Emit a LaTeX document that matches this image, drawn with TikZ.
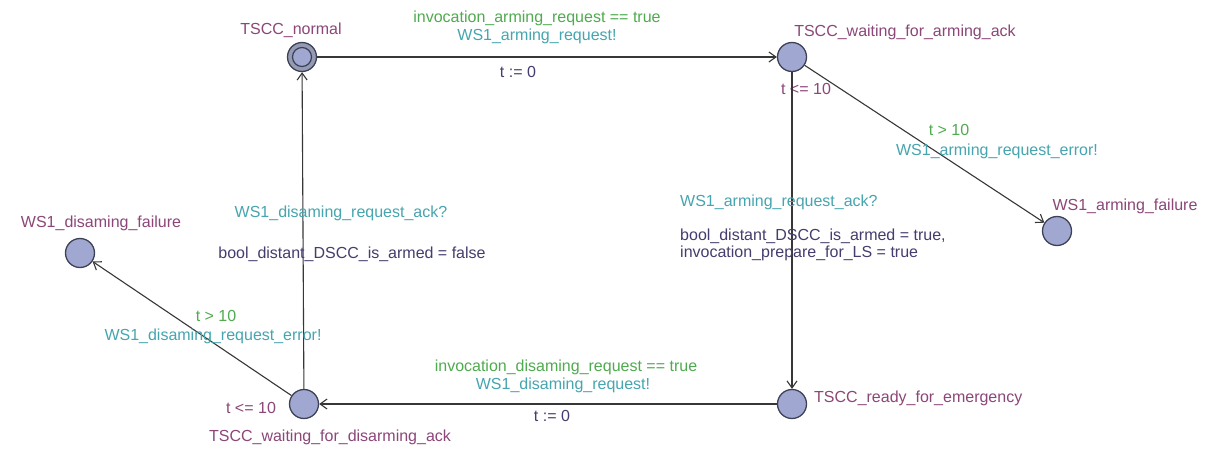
\documentclass[tikz,border=0pt]{standalone}
\usepackage{fontspec}
\setmainfont{Liberation Sans}
\usetikzlibrary{arrows.meta}
\definecolor{locname}{RGB}{140,70,120}
\definecolor{guardc}{RGB}{80,170,80}
\definecolor{syncc}{RGB}{70,165,175}
\definecolor{assignc}{RGB}{70,60,110}
\definecolor{locfill}{RGB}{160,168,210}
\definecolor{locring}{RGB}{150,155,180}
\definecolor{locdraw}{RGB}{60,65,85}
\definecolor{edgec}{RGB}{55,55,55}
\begin{document}
\begin{tikzpicture}[x=1pt,y=-1pt,
  loc/.style={circle,draw=locdraw,fill=locfill,line width=1.3pt,minimum size=29pt,inner sep=0pt},
  lbl/.style={inner sep=0pt,font=\fontsize{16}{18}\selectfont},
  namel/.style={lbl,text=locname},
  invl/.style={lbl,text=locname},
  guardl/.style={lbl,text=guardc},
  syncl/.style={lbl,text=syncc},
  assignl/.style={lbl,text=assignc},
  edge/.style={draw=edgec,line width=1.1pt,-{Straight Barb[length=7pt,width=10pt,line width=1.1pt]}}
]
\useasboundingbox (0,0) rectangle (1215,449);
\fill[white] (0,0) rectangle (1215,449);
% locations
\node[loc,fill=locring] (n) at (302,57) {};
\draw[locdraw,fill=locfill,line width=1.2pt] (n.center) circle (9.5pt);
\node[loc] (wa) at (792,57) {};
\node[loc] (af) at (1057,231) {};
\node[loc] (re) at (792,404) {};
\node[loc] (wd) at (304,404) {};
\node[loc] (df) at (80,253) {};
% names
\node[namel] (nN) at (291,30) {TSCC\_normal};
\node[namel] (nWA) at (905,32) {TSCC\_waiting\_for\_arming\_ack};
\node[namel] (nAF) at (1125,206) {WS1\_arming\_failure};
\node[namel,anchor=west] (nRE) at (814,398) {TSCC\_ready\_for\_emergency};
\node[namel] (nWD) at (330,437) {TSCC\_waiting\_for\_disarming\_ack};
\node[namel] (nDF) at (101,223) {WS1\_disaming\_failure};
% invariants
\node[invl] (iWA) at (806,89) {t <= 10};
\node[invl] (iWD) at (251,408) {t <= 10};
% edges
\draw[edge] (n) -- (wa);
\draw[edge] (wa) -- (re);
\draw[edge] (wa) -- (af);
\draw[edge] (re) -- (wd);
\draw[edge] (wd) -- (n);
\draw[edge] (wd) -- (df);
% edge labels: normal -> waiting arming
\node[guardl] (g1) at (537,18) {invocation\_arming\_request == true};
\node[syncl] (s1) at (537,36) {WS1\_arming\_request!};
\node[assignl] (a1) at (518,72) {t := 0};
% waiting arming -> failure
\node[guardl] (g2) at (949,130) {t > 10};
\node[syncl] (s2) at (997,151) {WS1\_arming\_request\_error!};
% waiting arming -> ready
\node[syncl,anchor=west] (s3) at (680,202) {WS1\_arming\_request\_ack?};
\node[assignl,anchor=west] (a3) at (680,236) {bool\_distant\_DSCC\_is\_armed = true,};
\node[assignl,anchor=west] (a3b) at (680,253) {invocation\_prepare\_for\_LS = true};
% ready -> waiting disarming
\node[guardl] (g4) at (566,367) {invocation\_disaming\_request == true};
\node[syncl] (s4) at (563,385) {WS1\_disaming\_request!};
\node[assignl] (a4) at (552,416) {t := 0};
% waiting disarming -> normal
\node[syncl] (s5) at (341,213) {WS1\_disaming\_request\_ack?};
\node[assignl] (a5) at (352,254) {bool\_distant\_DSCC\_is\_armed = false};
% waiting disarming -> disarming failure
\node[guardl] (g6) at (216,316) {t > 10};
\node[syncl] (s6) at (213,336) {WS1\_disaming\_request\_error!};
\end{tikzpicture}
\end{document}
